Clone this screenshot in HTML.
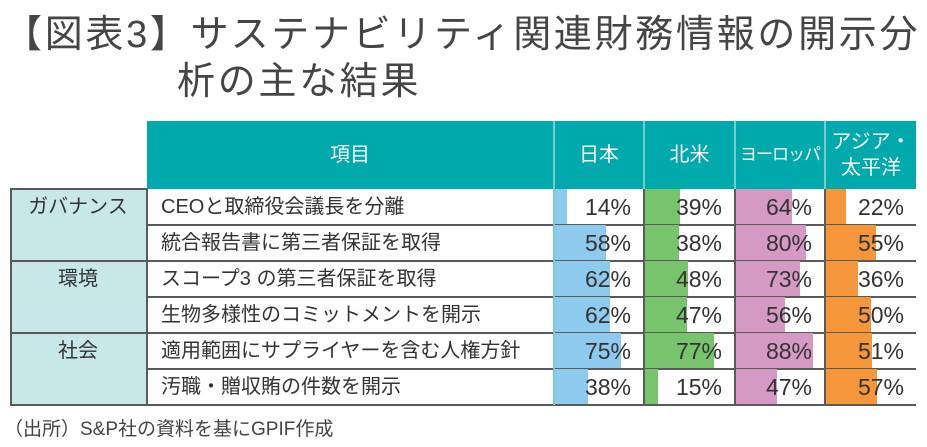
<!DOCTYPE html>
<html><head><meta charset="utf-8"><style>
body{margin:0;width:927px;height:447px;background:#fff;position:relative;overflow:hidden;font-family:"Liberation Sans","Noto Sans CJK JP",sans-serif;color:#333}
.a{position:absolute;white-space:nowrap}
.t{font-size:38px;color:#454545;letter-spacing:2.7px;line-height:44px}
.hd{background:#00aaac;color:#fff;font-size:20px;display:flex;align-items:center;justify-content:center;text-align:center;line-height:26px}
.cat{background:#c8e7e9;font-size:20px;text-align:center}
.it{font-size:20px;padding-left:14px;line-height:36px}
.v{font-size:23px;line-height:36px;text-align:right;overflow:hidden}
.v span{position:relative}
.b{position:absolute;left:0;top:0;bottom:0}
</style></head><body>
<div class="a t" style="left:4px;top:13px">【図表3】サステナビリティ関連財務情報の開示分</div>
<div class="a t" style="left:177px;top:60px">析の主な結果</div>

<div class="a hd" style="left:147px;top:121px;width:406px;height:68px">項目</div>
<div class="a hd" style="left:555px;top:121px;width:88px;height:68px">日本</div>
<div class="a hd" style="left:645px;top:121px;width:89px;height:68px">北米</div>
<div class="a hd" style="left:736px;top:121px;width:88px;height:68px;font-size:17px;letter-spacing:-1px">ヨーロッパ</div>
<div class="a hd" style="left:826px;top:121px;width:90px;height:68px">アジア・<br>太平洋</div>

<div class="a cat" style="left:10px;top:189px;width:136px;height:72px;line-height:36px">ガバナンス</div>
<div class="a cat" style="left:10px;top:261px;width:136px;height:72px;line-height:36px">環境</div>
<div class="a cat" style="left:10px;top:333px;width:136px;height:72px;line-height:36px">社会</div>

<div id="rows"></div>
<script>
const items=["CEOと取締役会議長を分離","統合報告書に第三者保証を取得","スコープ3 の第三者保証を取得","生物多様性のコミットメントを開示","適用範囲にサプライヤーを含む人権方針","汚職・贈収賄の件数を開示"];
const vals=[[14,39,64,22],[58,38,80,55],[62,48,73,36],[62,47,56,50],[75,77,88,51],[38,15,47,57]];
const cols=[[555,88],[645,89],[736,88],[826,90]];
const colors=["#8ec9ee","#78c46c","#d49ac4","#f5963a"];
let h="";
for(let r=0;r<6;r++){
 const y=189+r*36;
 h+=`<div class="a it" style="left:147px;top:${y}px;width:392px;height:36px">${items[r]}</div>`;
 for(let c=0;c<4;c++){
  const [x,w]=cols[c];
  h+=`<div class="a v" style="left:${x}px;top:${y}px;width:${w-12}px;padding-right:12px;height:36px"><div class="b" style="width:${Math.round(w*vals[r][c]/100)}px;background:${colors[c]}"></div><span>${vals[r][c]}%</span></div>`;
 }
 const lx=(r%2==0)?147:10;
 h+=`<div class="a" style="left:${lx}px;top:${y+35}px;width:${916-lx}px;height:2px;background:#5a5a5a"></div>`;
}
[[10,189],[146,189],[553,121],[643,189],[734,189],[824,189]].forEach(([x,t])=>{h+=`<div class="a" style="left:${x}px;top:${t}px;width:2px;height:${405-t}px;background:${t==121?'#7cc':'#5a5a5a'}"></div>`});
h+=`<div class="a" style="left:643px;top:121px;width:2px;height:68px;background:#7cc"></div><div class="a" style="left:734px;top:121px;width:2px;height:68px;background:#7cc"></div><div class="a" style="left:824px;top:121px;width:2px;height:68px;background:#7cc"></div>`;
h+=`<div class="a" style="left:10px;top:188px;width:137px;height:2px;background:#5a5a5a"></div>`;
document.getElementById("rows").innerHTML=h;
</script>
<div class="a" style="left:4px;top:414px;font-size:19px;color:#444">（出所）S&amp;P社の資料を基にGPIF作成</div>
</body></html>
